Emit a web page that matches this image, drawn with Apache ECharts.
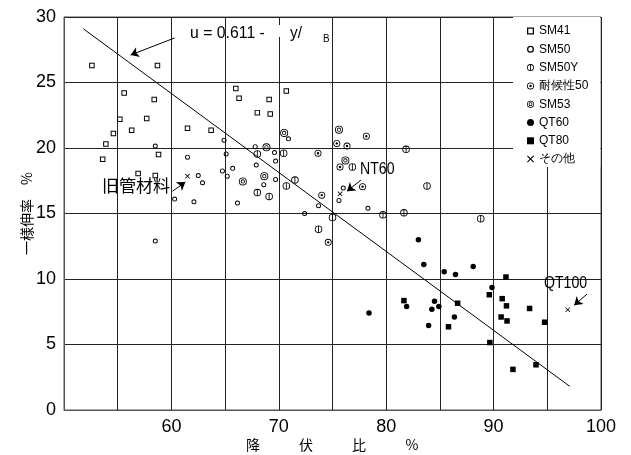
<!DOCTYPE html>
<html lang="ja">
<head>
<meta charset="UTF-8">
<title>降伏比と一様伸率</title>
<script src="https://cdn.jsdelivr.net/npm/echarts@6.0.0/dist/echarts.min.js"></script>
<style>
  html, body { margin: 0; padding: 0; background: #fff; }
</style>
</head>
<body>
<div id="main" style="width:631px;height:455px;"></div>
<script type="text/javascript">
// 降伏比(%) , 一様伸率(%)
var sm41 = [[52.6,26.3],[58.7,26.3],[55.6,24.2],[58.4,23.7],[55.2,22.2],[57.7,22.25],[61.5,21.5],
  [56.3,21.35],[54.6,21.1],[53.9,20.3],[58.8,19.5],[53.6,19.15],[56.9,18.05],[58.5,17.9],
  [66.0,24.55],[66.3,23.8],[69.1,23.7],[70.7,24.35],[68.0,22.7],[69.2,22.6],[63.7,21.35]];
var sm50 = [[58.5,20.15],[61.5,19.3],[62.5,17.9],[60.3,16.1],[62.1,15.9],[58.5,12.9],
  [64.9,20.6],[65.1,19.55],[67.8,20.1],[70.9,20.7],[69.6,19.65],[69.7,19.0],[67.9,18.7],
  [65.7,18.45],[64.75,18.25],[65.2,17.85],[62.9,17.35],[68.6,17.2],[69.7,17.6],[66.15,15.8],
  [72.4,15.0],[73.7,15.6],[76.0,16.95],[75.6,16.0],[78.3,15.4]];
var sm50y = [[68.0,19.55],[70.45,19.6],[71.5,17.55],[70.7,17.1],[68.0,16.6],[69.1,16.3],
  [73.7,13.8],[75.0,14.7],[81.85,19.9],[76.85,18.55],[83.8,17.1],[79.7,14.9],[81.65,15.05],
  [88.8,14.6]];
var taiko50 = [[73.65,19.6],[74.0,16.4],[74.6,12.8],[75.4,20.35],[76.35,20.15],[78.15,20.9],
  [75.7,18.55],[77.8,17.05]];
var sm53 = [[70.5,21.15],[68.85,20.05],[66.65,17.45],[68.65,17.85],[75.6,21.4],[76.2,19.05]];
var qt60 = [[83.0,13.0],[83.5,11.1],[85.4,10.55],[86.45,10.35],[88.1,10.95],[89.85,9.35],
  [81.9,7.9],[84.5,8.3],[84.25,7.7],[84.9,7.9],[86.35,7.1],[83.95,6.45],[78.4,7.4]];
var qt80 = [[91.15,10.15],[89.6,8.8],[90.8,8.5],[91.2,7.95],[90.7,7.1],[91.25,6.8],[81.65,8.35],
  [86.65,8.15],[85.8,6.35],[89.65,5.15],[93.35,7.75],[94.75,6.7],[91.8,3.1],[93.95,3.45]];
var others = [[61.5,17.85],[75.7,16.5],[96.9,7.65]];

// 回帰線 u = 0.611 - σy/σB
var fitLine = [[51.8,29.1],[97.1,1.8]];
// 注記の矢印 (始点, 矢先)
var arrows = [[[60.3,28.4],[56.2,27.1]], [[60.1,16.7],[61.3,17.4]],
  [[77.65,17.55],[76.35,16.7]], [[98.7,8.85],[97.5,8.0]]];

var xTicks = [60, 70, 80, 90, 100];
var legendNames = ['SM41','SM50','SM50Y','耐候性50','SM53','QT60','QT80','その他'];

var latin = "'Liberation Sans',Arial,sans-serif";
var cjk = "'Noto Sans CJK JP',sans-serif";

function ring(ri) {
  return 'M10,0A10,10,0,1,1,10,20A10,10,0,1,1,10,0Z' +
    'M10,' + (10 - ri) + 'A' + ri + ',' + ri + ',0,1,0,10,' + (10 + ri) +
    'A' + ri + ',' + ri + ',0,1,0,10,' + (10 - ri) + 'Z';
}
function disc(r) {
  return 'M10,' + (10 - r) + 'A' + r + ',' + r + ',0,1,1,10,' + (10 + r) +
    'A' + r + ',' + r + ',0,1,1,10,' + (10 - r) + 'Z';
}
var symSquare = 'path://M0,0L20,0L20,20L0,20ZM3.6,3.6L3.6,16.4L16.4,16.4L16.4,3.6Z';
var symCircle = 'path://' + ring(6.3);
var symPhi = 'path://' + ring(7.7) + 'M8.85,0.3L11.15,0.3L11.15,19.7L8.85,19.7Z';
var symDot = 'path://' + ring(7.5) + disc(3.4);
var symDouble = 'path://' + ring(7.8) + disc(5.3) + 'M10,6.8A3.2,3.2,0,1,0,10,13.2A3.2,3.2,0,1,0,10,6.8Z';
var symCross = 'path://M0,2.2L2.2,0L10,7.8L17.8,0L20,2.2L12.2,10L20,17.8L17.8,20L10,12.2L2.2,20L0,17.8L7.8,10Z';

function pts(name, data, symbol, size) {
  return {
    name: name, type: 'scatter', data: data,
    symbol: symbol, symbolSize: size,
    itemStyle: { color: '#000', opacity: 1 },
    emphasis: { disabled: true }, z: 3
  };
}

// 注記テキスト (横に少し詰める)
function note(text, left, top, size, family, sx) {
  return { type: 'text', left: left, top: top, z: 10, scaleX: sx, originX: left,
    style: { text: text, font: size + 'px ' + family, fill: '#000' } };
}

var myChart = echarts.init(document.getElementById('main'));
var option = {
  backgroundColor: '#fff',
  animation: false,
  grid: { left: 64, right: 30, top: 17, bottom: 45, show: true, borderColor: '#555', borderWidth: 1,
    outerBoundsMode: 'none' },
  legend: {
    data: legendNames, orient: 'vertical', left: 513, top: 17,
    backgroundColor: '#fff', padding: [7, 12, 1, 14],
    itemWidth: 7, itemHeight: 7, itemGap: 4.3,
    textStyle: { fontFamily: latin, fontSize: 12, color: '#000', lineHeight: 14 },
    selectedMode: false
  },
  xAxis: {
    type: 'value', min: 50, max: 100, interval: 5,
    name: '{a|降}{a|伏}{a|比}{a|%}', nameLocation: 'middle', nameGap: 28, nameMoveOverlap: false,
    nameTextStyle: { rich: { a: { width: 53, align: 'center', fontFamily: cjk, fontSize: 14, color: '#000' } } },
    axisLine: { show: true, lineStyle: { color: '#555' } },
    axisTick: { show: false },
    axisLabel: { fontFamily: latin, fontSize: 18, color: '#000', margin: 8,
      formatter: function (v) { return xTicks.indexOf(v) >= 0 ? String(v) : ''; } },
    splitLine: { show: true, lineStyle: { color: '#222', width: 1 } }
  },
  yAxis: {
    type: 'value', min: 0, max: 30, interval: 5,
    name: '一様伸率　%', nameLocation: 'middle', nameRotate: 90, nameGap: 30, nameMoveOverlap: false,
    nameTextStyle: { fontFamily: cjk, fontSize: 14, color: '#000' },
    axisLine: { show: true, lineStyle: { color: '#555' } },
    axisTick: { show: false },
    axisLabel: { fontFamily: latin, fontSize: 18, color: '#000', margin: 8 },
    splitLine: { show: true, lineStyle: { color: '#222', width: 1 } }
  },
  graphic: [
    { type: 'rect', shape: { x: 271, y: 25, width: 17, height: 12 }, style: { fill: '#fff' }, z: 1 },
    note('u = 0.611 -', 190, 25, 17, latin, 0.93),
    note('y/', 290, 25, 17, latin, 0.9),
    note('B', 323, 33, 11, latin, 0.9),
    note('旧管材料', 102, 177, 17, cjk, 1),
    note('NT60', 360, 161, 17, latin, 0.83),
    note('QT100', 544, 275, 17, latin, 0.83)
  ],
  series: [
    pts('SM41', sm41, symSquare, 5.5),
    pts('SM50', sm50, symCircle, 5),
    pts('SM50Y', sm50y, symPhi, 7.5),
    pts('耐候性50', taiko50, symDot, 7),
    pts('SM53', sm53, symDouble, 8),
    pts('QT60', qt60, 'circle', 5.5),
    pts('QT80', qt80, 'rect', 5.5),
    pts('その他', others, symCross, 5),
    {
      name: 'fit', type: 'line', data: fitLine, symbol: 'none', z: 2,
      lineStyle: { color: '#000', width: 1 }, silent: true
    },
    {
      name: 'arrows', type: 'lines', coordinateSystem: 'cartesian2d', z: 4, silent: true,
      symbol: ['none', 'arrow'], symbolSize: 8,
      lineStyle: { color: '#000', width: 1, opacity: 1 },
      data: arrows.map(function (a) { return { coords: a }; })
    }
  ]
};
myChart.setOption(option);
</script>
</body>
</html>
